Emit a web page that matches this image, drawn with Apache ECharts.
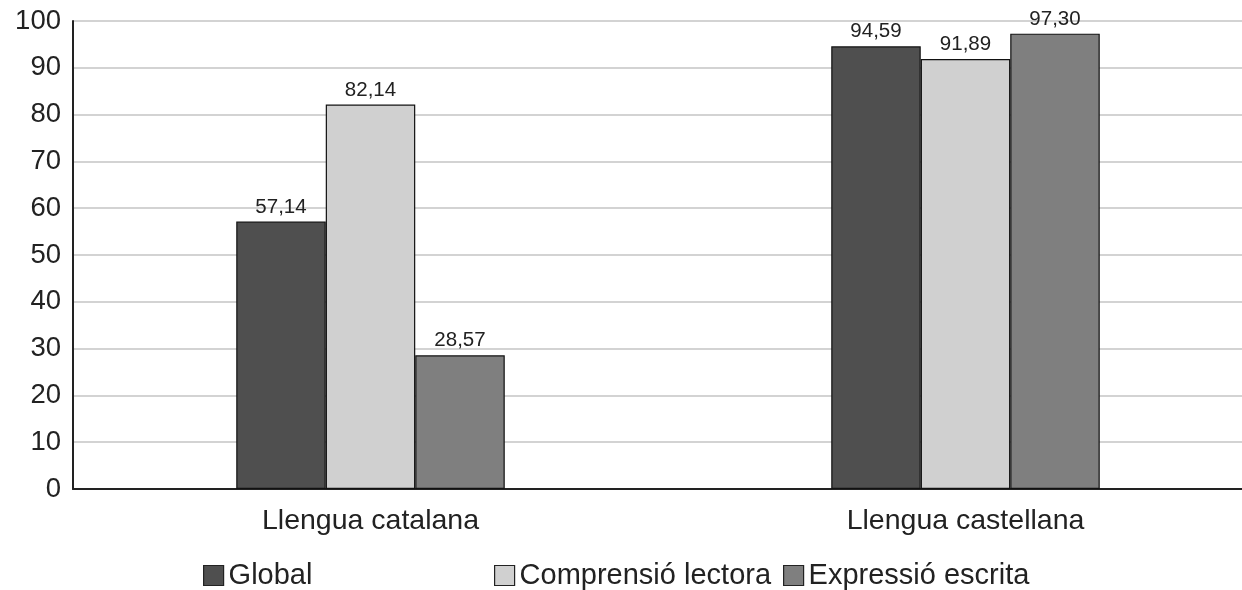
<!DOCTYPE html>
<html><head><meta charset="utf-8">
<script src="https://cdn.jsdelivr.net/npm/echarts@6/dist/echarts.min.js"></script>
<style>html,body{margin:0;padding:0;background:#fff;overflow:hidden}#c{width:1263px;height:590px}</style>
</head><body><div id="c"></div>
<script>
const categories = ['Llengua catalana', 'Llengua castellana'];
const seriesNames = ['Global', 'Comprensió lectora', 'Expressió escrita'];
const globalVals = [57.14, 94.59];
const comprensioVals = [82.14, 91.89];
const expressioVals = [28.57, 97.30];
const yTicks = [0, 10, 20, 30, 40, 50, 60, 70, 80, 90, 100];

const colors = ['#4f4f4f', '#d0d0d0', '#7f7f7f'];
const dataSets = [globalVals, comprensioVals, expressioVals];
const font = 'Liberation Sans, Arial, sans-serif';

const chart = echarts.init(document.getElementById('c'));
const legendPos = [203, 494, 783];
chart.setOption({
  animation: false,
  grid: { left: 73, top: 21, right: 0, height: 468, containLabel: false },
  xAxis: {
    type: 'category', data: categories,
    axisLine: { lineStyle: { color: '#222', width: 2 } },
    axisTick: { show: false },
    axisLabel: { color: '#222', fontSize: 28.5, fontFamily: font, margin: 18 }
  },
  yAxis: {
    type: 'value', min: yTicks[0], max: yTicks[yTicks.length - 1], interval: 10,
    axisLine: { show: true, lineStyle: { color: '#222', width: 2 } },
    axisTick: { show: false },
    axisLabel: { color: '#222', fontSize: 27.5, fontFamily: font, margin: 12 },
    splitLine: { lineStyle: { color: '#c4c4c4', width: 1.5 } }
  },
  legend: seriesNames.map((n, i) => ({
    data: [n], left: legendPos[i], top: 561, padding: 0, itemWidth: 20, itemHeight: 20, itemGap: 5,
    icon: 'rect',
    textStyle: { color: '#222', fontSize: 29, fontFamily: font },
    itemStyle: { borderColor: '#222', borderWidth: 1.2 }
  })),
  series: seriesNames.map((n, i) => ({
    name: n, type: 'bar', data: dataSets[i], barWidth: 89.5, barGap: '0%',
    itemStyle: { color: colors[i], borderColor: '#111', borderWidth: 1.2 },
    label: {
      show: true, position: 'top', distance: 4, color: '#222', fontSize: 20.5, fontFamily: font,
      formatter: p => p.value.toFixed(2).replace('.', ',')
    }
  }))
});
</script></body></html>
